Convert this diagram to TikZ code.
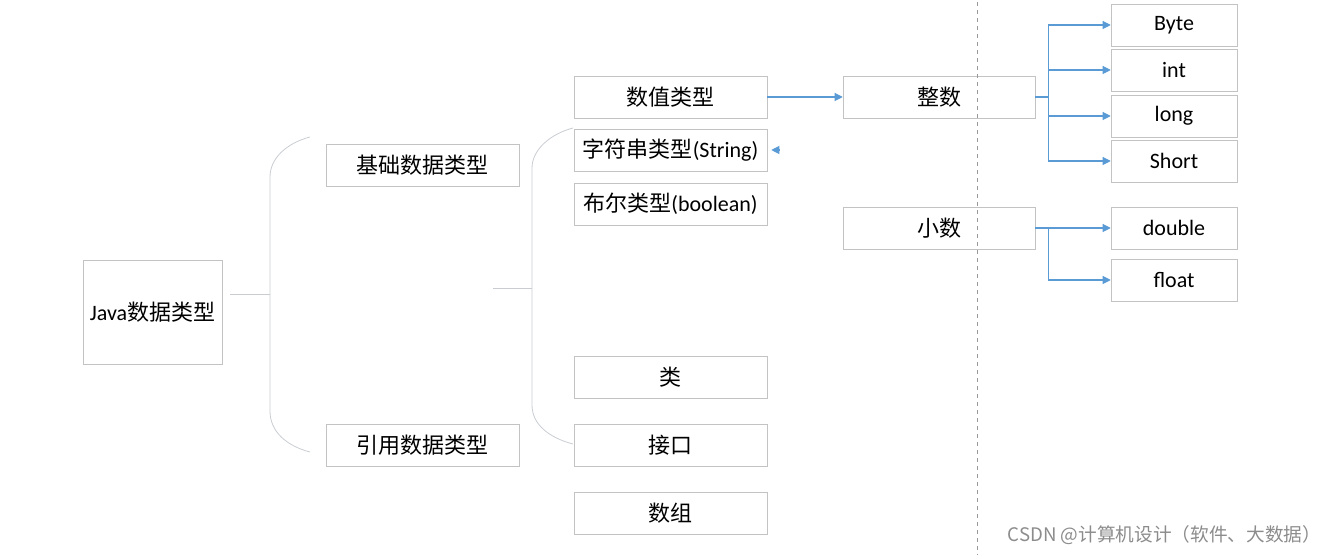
\documentclass[tikz,border=0pt]{standalone}
\usepackage{fontspec}
\setmainfont{Carlito}
\newfontfamily\cjk{Noto Sans CJK SC}
\usepackage{tikz}
\usetikzlibrary{arrows.meta, shadows, positioning}
\definecolor{boxline}{HTML}{C3C3C3}
\definecolor{linkblue}{HTML}{5B9BD5}
\definecolor{bracegray}{HTML}{C9CDD2}

\begin{document}
\begin{tikzpicture}[x=0.75pt, y=-0.75pt, font=\fontsize{16.5}{19}\selectfont,
  box/.style={draw=boxline, fill=white, inner sep=0pt, minimum height=31.5pt,
    drop shadow={opacity=0.10, shadow xshift=1pt, shadow yshift=-1pt}},
  mid/.style={box, minimum width=144.75pt},
  sub/.style={box, minimum width=144pt},
  leaf/.style={box, minimum width=94.5pt},
  link/.style={draw=linkblue, line width=0.8pt, -{Triangle[length=6pt,width=6pt]}},
  brace/.style={draw=bracegray, line width=0.6pt}]
\useasboundingbox (0,0) rectangle (1335,555);

% root and first level
\node[box, minimum width=104.25pt, minimum height=78pt] (java) at (152.5,312) {Java{\cjk 数据类型}};
\node[mid] (jichu) at (422.5,165) {\cjk 基础数据类型};
\node[mid] (yinyong) at (422.5,445) {\cjk 引用数据类型};

% second level
\node[mid] (shuzhi) at (670.5,97) {\cjk 数值类型};
\node[mid] (zifu) at (670.5,150) {{\cjk 字符串类型}(String)};
\node[mid] (buer) at (670.5,204) {{\cjk 布尔类型}(boolean)};
\node[mid] (lei) at (670.5,377) {\cjk 类};
\node[mid] (jiekou) at (670.5,445) {\cjk 接口};
\node[mid] (shuzu) at (670.5,513) {\cjk 数组};

% numbers
\node[sub] (zhengshu) at (939,97) {\cjk 整数};
\node[sub] (xiaoshu) at (939,228) {\cjk 小数};
\node[leaf] (byte) at (1174,25) {Byte};
\node[leaf] (int) at (1174,70) {int};
\node[leaf] (long) at (1174,116) {long};
\node[leaf] (short) at (1174,161) {Short};
\node[leaf] (double) at (1174,228) {double};
\node[leaf] (float) at (1174,280) {float};

% brackets
\coordinate (b1in) at (230,294); \coordinate (b1mid) at (270,294);
\draw[brace] (b1in) -- (b1mid);
\draw[brace] (310,137) .. controls (287,143) and (270,158) .. (270,177) -- (270,411) .. controls (270,432) and (287,446) .. (310,452);
\coordinate (b2in) at (493,288); \coordinate (b2mid) at (532,288);
\draw[brace] (b2in) -- (b2mid);
\draw[brace] (573,128) .. controls (550,134) and (532,150) .. (532,168) -- (532,405) .. controls (532,425) and (550,438) .. (573,444);

% arrows
\draw[link] (shuzhi) -- (zhengshu);
\draw[link] ([xshift=9pt]zifu.east) -- ([xshift=3pt]zifu.east);
\foreach \t in {byte,int,long,short} \draw[link] (zhengshu.east) -- ++(13,0) |- (\t.west);
\foreach \t in {double,float} \draw[link] (xiaoshu.east) -- ++(13,0) |- (\t.west);

\draw[gray!80, dashed, line width=0.6pt] (977,2) -- (977,555);
\node[text=gray!90, font=\cjk\fontsize{14}{16}\selectfont, anchor=east] (mark) at (1326,535) {CSDN @计算机设计（软件、大数据）};
\end{tikzpicture}
\end{document}
